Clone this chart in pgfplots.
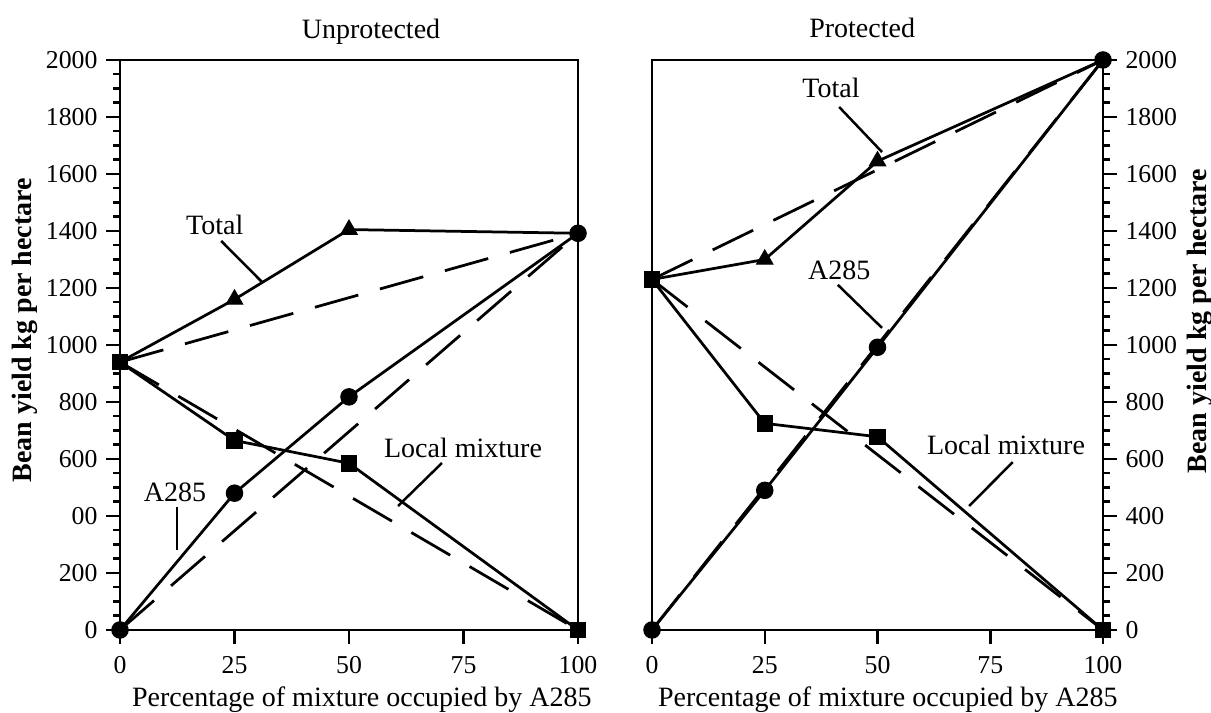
\documentclass[border=0pt]{standalone}
\usepackage{fontspec}
\setmainfont{Liberation Serif}
\usepackage{pgfplots}
\pgfplotsset{compat=1.18}
\pgfplotsset{
  panel/.style={
    scale only axis, height=228pt,
    xmin=0, xmax=100, ymin=0, ymax=2000,
    xtick={0,25,50,75,100},
    ytick={0,200,...,2000},
    minor y tick num=3,
    tick align=outside,
    major tick length=5.5pt, minor tick length=2.8pt,
    axis line style={line width=1.1pt},
    every tick/.style={black, line width=1pt},
    tick label style={font=\fontsize{10.3}{12}\selectfont},
    xticklabel style={yshift=-1.5pt},
    /pgf/number format/assume math mode=true,
    /pgf/number format/1000 sep={},
    xtick pos=lower,
    clip=false,
  },
  sol/.style={black, line width=1.1pt, mark=none},
  dsh/.style={black, line width=1.1pt, mark=none, dash pattern=on 18pt off 9pt},
  circ/.style={only marks, mark=*, mark size=3.3pt, black},
  sq/.style={only marks, mark=square*, mark size=3.1pt, black},
  tri/.style={only marks, mark=triangle*, mark size=3.8pt, black},
}
\newcommand{\lab}{\fontsize{11.2}{13}\selectfont}
\begin{document}
\begin{tikzpicture}
\path[use as bounding box] (0,0) rectangle (484.4pt,285.2pt);
% ---------------- Unprotected ----------------
\begin{axis}[panel, at={(48pt,33.2pt)}, anchor=south west, width=183.2pt,
  ytick pos=left,
  yticklabels={0,200,00,600,800,1000,1200,1400,1600,1800,2000}]
\addplot[dsh] coordinates {(0,940) (100,1392)};
\addplot[dsh] coordinates {(0,940) (100,0)};
\addplot[dsh] coordinates {(0,0) (100,1392)};
\addplot[sol] coordinates {(0,940) (25,1160) (50,1405) (100,1392)};
\addplot[sol] coordinates {(0,940) (25,665) (50,585) (100,0)};
\addplot[sol] coordinates {(0,0) (25,480) (50,818) (100,1392)};
\addplot[tri] coordinates {(25,1160) (50,1405)};
\addplot[sq] coordinates {(0,940) (25,665) (50,585) (100,0)};
\addplot[circ] coordinates {(0,0) (25,480) (50,818) (100,1392)};
\node[font=\lab] at (axis cs:20.7,1421) {Total};
\draw[line width=1pt] (axis cs:22.1,1365) -- (axis cs:31.0,1221);
\node[font=\lab] at (axis cs:12.0,484) {A285};
\draw[line width=1pt] (axis cs:12.4,432) -- (axis cs:12.4,281);
\node[font=\lab] at (axis cs:74.9,639) {Local mixture};
\draw[line width=1pt] (axis cs:70.3,586) -- (axis cs:60.7,435);
\node[font=\lab] at (axis description cs:0.548,1.049) {Unprotected};
\node[font=\lab] at (axis description cs:0.528,-0.1225) {Percentage of mixture occupied by A285};
\node[font=\lab\bfseries, rotate=90] at (axis description cs:-0.2074,0.526) {Bean yield kg per hectare};
\end{axis}
% ---------------- Protected ----------------
\begin{axis}[panel, at={(260.8pt,33.2pt)}, anchor=south west, width=180.4pt,
  ytick pos=right, yticklabel pos=right]
\addplot[dsh] coordinates {(0,1230) (100,2000)};
\addplot[dsh] coordinates {(0,1230) (100,0)};
\addplot[dsh] coordinates {(0,0) (100,2000)};
\addplot[sol] coordinates {(0,1230) (25,1300) (50,1645) (100,2000)};
\addplot[sol] coordinates {(0,1230) (25,725) (50,678) (100,0)};
\addplot[sol] coordinates {(0,0) (25,490) (50,992) (100,2000)};
\addplot[tri] coordinates {(25,1300) (50,1645)};
\addplot[sq] coordinates {(0,1230) (25,725) (50,678) (100,0)};
\addplot[circ] coordinates {(0,0) (25,490) (50,992) (100,2000)};
\node[font=\lab] at (axis cs:39.7,1902) {Total};
\draw[line width=1pt] (axis cs:41.5,1835) -- (axis cs:51.0,1677);
\node[font=\lab] at (axis cs:41.5,1263) {A285};
\draw[line width=1pt] (axis cs:41.2,1211) -- (axis cs:51.0,1060);
\node[font=\lab] at (axis cs:78.5,649) {Local mixture};
\draw[line width=1pt] (axis cs:80.0,589) -- (axis cs:70.3,435);
\node[font=\lab] at (axis description cs:0.466,1.056) {Protected};
\node[font=\lab] at (axis description cs:0.523,-0.1225) {Percentage of mixture occupied by A285};
\node[font=\lab\bfseries, rotate=90] at (axis description cs:1.215,0.542) {Bean yield kg per hectare};
\end{axis}
\end{tikzpicture}
\end{document}
